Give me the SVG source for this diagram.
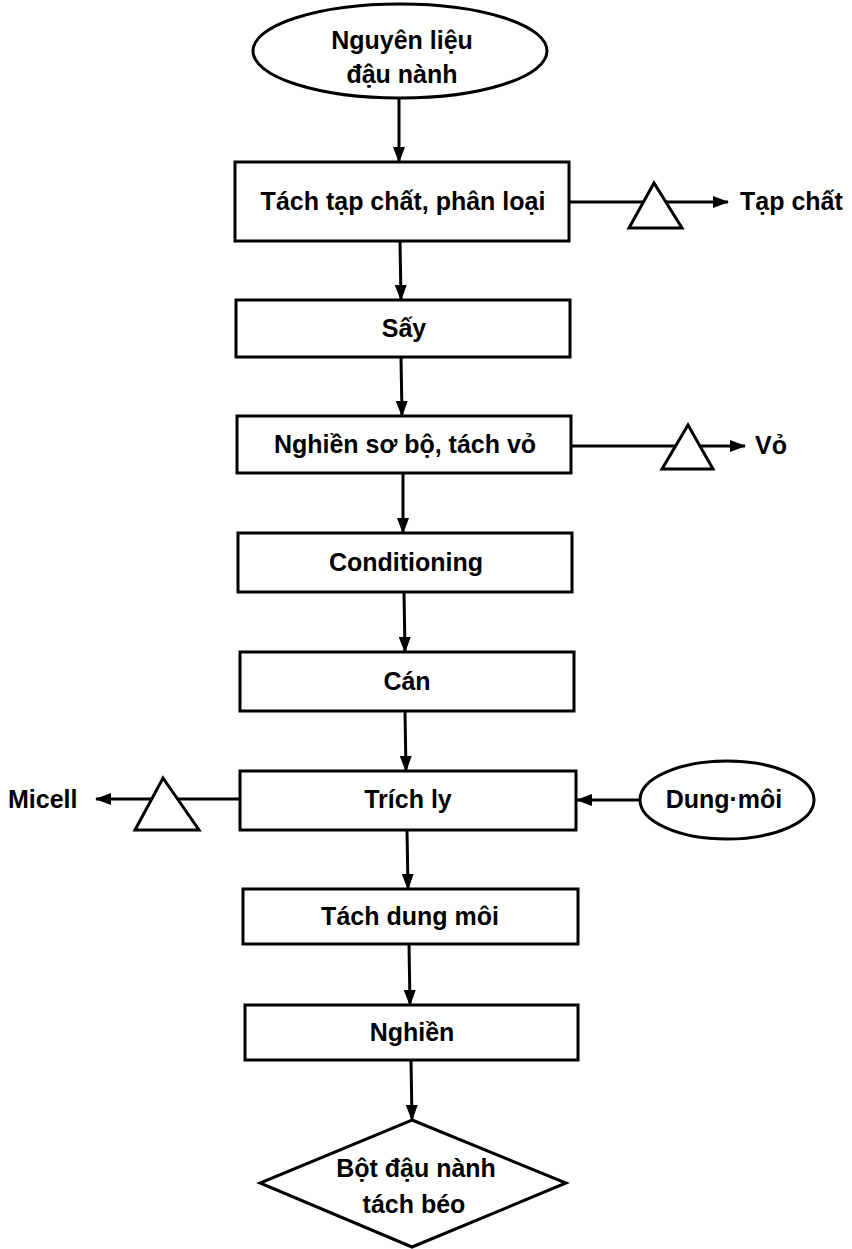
<svg xmlns="http://www.w3.org/2000/svg" width="852" height="1249" viewBox="0 0 852 1249">
<style>
.shape{fill:#fff;stroke:#000;stroke-width:3}
.edge{fill:none;stroke:#000;stroke-width:3}
text{font-family:"Liberation Sans",Arial,sans-serif;font-weight:bold;font-size:25px;fill:#000}
.c{text-anchor:middle}
</style>
<defs>
<marker id="ah" markerUnits="userSpaceOnUse" markerWidth="16" markerHeight="12" refX="15" refY="6" orient="auto">
<path d="M0,0 L16,6 L0,12 z" fill="#000"/>
</marker>
</defs>
<rect width="852" height="1249" fill="#fff"/>
<g id="connectors">
<line class="edge" x1="399" y1="99" x2="399" y2="162" marker-end="url(#ah)"/>
<line class="edge" x1="400" y1="241" x2="401" y2="300" marker-end="url(#ah)"/>
<line class="edge" x1="401" y1="357" x2="402" y2="416" marker-end="url(#ah)"/>
<line class="edge" x1="403" y1="473" x2="403" y2="533" marker-end="url(#ah)"/>
<line class="edge" x1="404" y1="592" x2="405" y2="652" marker-end="url(#ah)"/>
<line class="edge" x1="405" y1="711" x2="406" y2="771" marker-end="url(#ah)"/>
<line class="edge" x1="407" y1="830" x2="408" y2="889" marker-end="url(#ah)"/>
<line class="edge" x1="409" y1="944" x2="410" y2="1005" marker-end="url(#ah)"/>
<line class="edge" x1="411" y1="1060" x2="412" y2="1120" marker-end="url(#ah)"/>
<line class="edge" x1="569" y1="202" x2="728" y2="202" marker-end="url(#ah)"/>
<line class="edge" x1="571" y1="446" x2="745" y2="446" marker-end="url(#ah)"/>
<line class="edge" x1="240" y1="799" x2="96" y2="799" marker-end="url(#ah)"/>
<line class="edge" x1="640" y1="800" x2="577" y2="800" marker-end="url(#ah)"/>
</g>
<g id="n_nguyenlieu">
<ellipse class="shape" cx="400" cy="51" rx="147" ry="47"/>
<text class="c" x="402" y="49">Nguyên liệu</text>
<text class="c" x="402" y="83">đậu nành</text>
</g>
<g id="n_tachtapchat">
<rect class="shape" x="235" y="162" width="334" height="79"/>
<text class="c" x="403" y="210">Tách tạp chất, phân loại</text>
</g>
<g id="n_tri1">
<polygon class="shape" points="629,228 654,183 682,228"/>
</g>
<g id="n_tapchat">
<text x="740" y="210">Tạp chất</text>
</g>
<g id="n_say">
<rect class="shape" x="236" y="300" width="334" height="57"/>
<text class="c" x="404" y="337">Sấy</text>
</g>
<g id="n_nghiensobo">
<rect class="shape" x="237" y="416" width="334" height="57"/>
<text class="c" x="405" y="453">Nghiền sơ bộ, tách vỏ</text>
</g>
<g id="n_tri2">
<polygon class="shape" points="662,469 688,425 713,469"/>
</g>
<g id="n_vo">
<text x="755" y="454">Vỏ</text>
</g>
<g id="n_conditioning">
<rect class="shape" x="238" y="533" width="334" height="59"/>
<text class="c" x="406" y="571">Conditioning</text>
</g>
<g id="n_can">
<rect class="shape" x="240" y="652" width="334" height="59"/>
<text class="c" x="407" y="690">Cán</text>
</g>
<g id="n_trichly">
<rect class="shape" x="240" y="771" width="336" height="59"/>
<text class="c" x="408" y="808">Trích ly</text>
</g>
<g id="n_tri3">
<polygon class="shape" points="135,830 163,778 199,830"/>
</g>
<g id="n_micell">
<text x="8" y="808">Micell</text>
</g>
<g id="n_dungmoi">
<ellipse class="shape" cx="727" cy="800" rx="87" ry="39"/>
<text class="c" x="724" y="808">Dung·môi</text>
</g>
<g id="n_tachdungmoi">
<rect class="shape" x="243" y="889" width="335" height="55"/>
<text class="c" x="410" y="925">Tách dung môi</text>
</g>
<g id="n_nghien">
<rect class="shape" x="245" y="1005" width="333" height="55"/>
<text class="c" x="412" y="1041">Nghiền</text>
</g>
<g id="n_botdaunanh">
<polygon class="shape" points="412,1120 566,1183 412,1247 260,1183"/>
<text class="c" x="416" y="1177">Bột đậu nành</text>
<text class="c" x="414" y="1213">tách béo</text>
</g>
</svg>
